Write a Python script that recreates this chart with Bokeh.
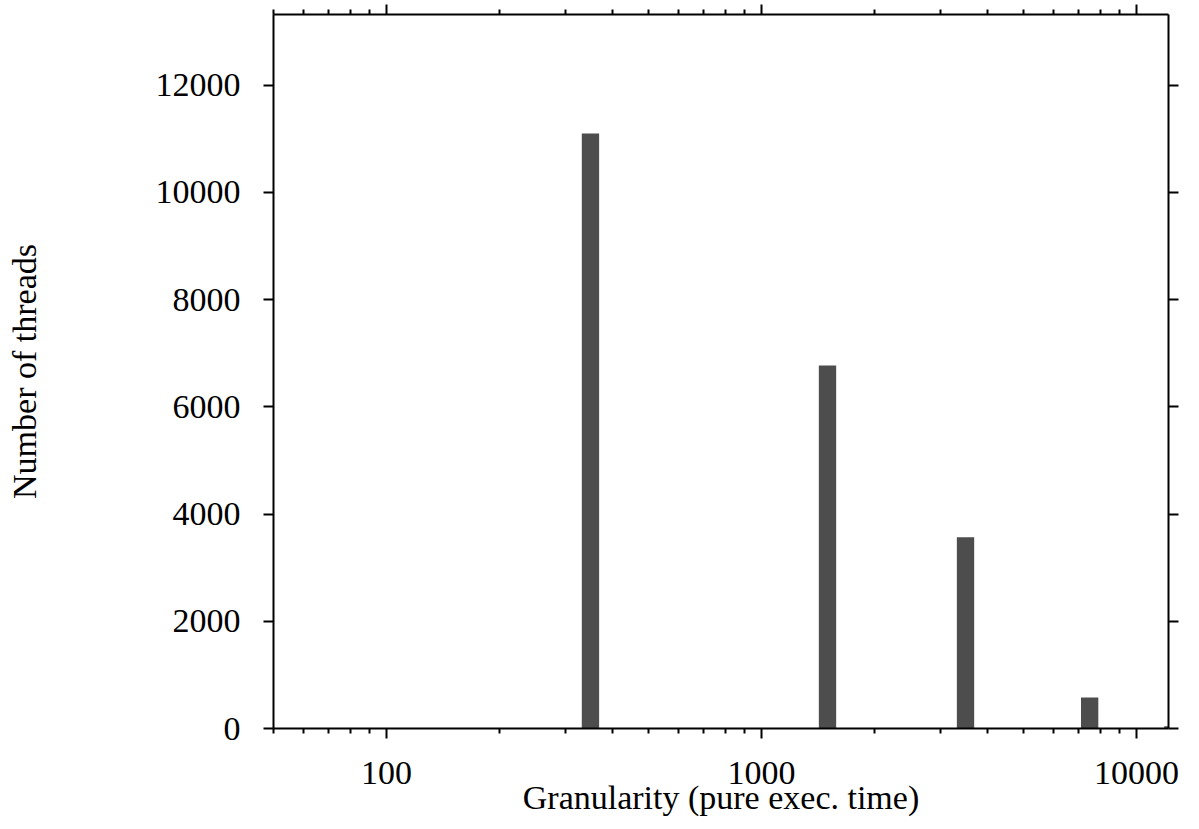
from bokeh.plotting import figure
from bokeh.models import (LogAxis, LinearAxis, FixedTicker, NumeralTickFormatter,
                          Range1d, ColumnDataSource)
from bokeh.embed import file_html
from bokeh.resources import INLINE

# ---- data ----
granularity = [350, 1500, 3500, 7500, 12500]
threads = [11100, 6770, 3570, 580, 40]
bar_half_decades = 0.0231  # half bar width in log10 units

x_major = [100, 1000, 10000]
x_minor = [50, 60, 70, 80, 90, 200, 300, 400, 500, 600, 700, 800, 900,
           2000, 3000, 4000, 5000, 6000, 7000, 8000, 9000]
y_major = [0, 2000, 4000, 6000, 8000, 10000, 12000]

x_title = "Granularity (pure exec. time)"
y_title = "Number of threads"

FONT = "Liberation Serif"
FS = "34px"

factor = 10 ** bar_half_decades
src = ColumnDataSource(dict(
    left=[g / factor for g in granularity],
    right=[g * factor for g in granularity],
    top=threads,
    bottom=[0] * len(threads),
))

p = figure(width=1199, height=829, output_backend="svg", toolbar_location=None,
           x_axis_type="log", x_range=Range1d(50, 12170), y_range=Range1d(0, 13320),
           min_border_left=273, min_border_right=31, min_border_top=14,
           min_border_bottom=101)
p.outline_line_color = None
p.grid.visible = False
p.background_fill_color = "white"
p.border_fill_color = "white"

p.quad(left="left", right="right", top="top", bottom="bottom", source=src,
       fill_color="#4d4d4d", line_color=None)

xt = FixedTicker(ticks=x_major, minor_ticks=x_minor)
yt = FixedTicker(ticks=y_major, minor_ticks=[])


def style(ax):
    ax.axis_line_color = "black"
    ax.axis_line_width = 2
    ax.major_tick_line_color = "black"
    ax.major_tick_line_width = 2
    ax.minor_tick_line_color = "black"
    ax.minor_tick_line_width = 2
    ax.major_tick_in = 0
    ax.major_tick_out = 10
    ax.minor_tick_in = 0
    ax.minor_tick_out = 5
    ax.major_label_text_font = FONT
    ax.major_label_text_font_size = FS
    ax.major_label_text_color = "black"
    ax.axis_label_text_font = FONT
    ax.axis_label_text_font_size = FS
    ax.axis_label_text_font_style = "normal"
    ax.axis_label_text_color = "black"


xa = p.xaxis[0]
xa.ticker = xt
xa.formatter = NumeralTickFormatter(format="0")
xa.axis_label = x_title
xa.major_label_standoff = 23
xa.axis_label_standoff = -8
style(xa)

ya = p.yaxis[0]
ya.ticker = yt
ya.formatter = NumeralTickFormatter(format="0")
ya.axis_label = y_title
ya.major_label_standoff = 23
ya.axis_label_standoff = 110
style(ya)

top_ax = LogAxis(ticker=xt, formatter=NumeralTickFormatter(format="0"))
style(top_ax)
top_ax.major_label_text_font_size = "1px"
top_ax.major_label_text_color = None
top_ax.major_label_standoff = 0
p.add_layout(top_ax, "above")

right_ax = LinearAxis(ticker=yt, formatter=NumeralTickFormatter(format="0"))
style(right_ax)
right_ax.major_label_text_font_size = "1px"
right_ax.major_label_text_color = None
right_ax.major_label_standoff = 0
p.add_layout(right_ax, "right")

open("out.html", "w").write(file_html(p, INLINE))
